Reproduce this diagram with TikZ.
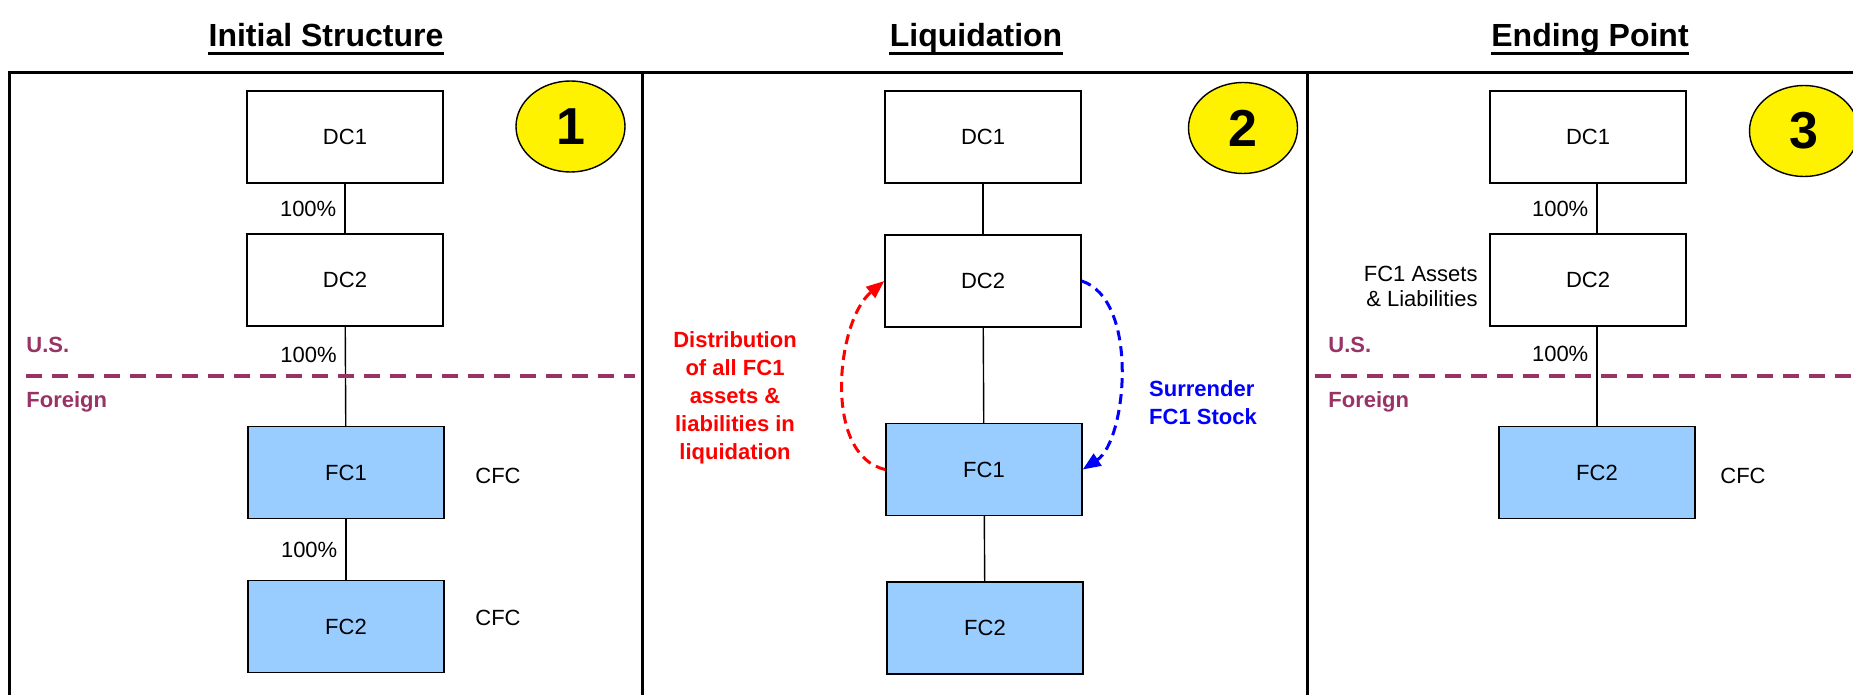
\documentclass[tikz,border=0pt]{standalone}
\usepackage{fontspec}
\setmainfont{Liberation Sans}
\usepackage{xcolor}
\usetikzlibrary{shapes.geometric,arrows.meta,positioning}
\definecolor{fcblue}{RGB}{153,204,255}
\definecolor{borderpurple}{RGB}{153,51,102}
\definecolor{distred}{RGB}{255,0,0}
\definecolor{surrblue}{RGB}{0,0,255}

\tikzset{
  entity/.style={draw, line width=0.7pt, minimum width=98pt, minimum height=46pt, inner sep=0pt, font=\fontsize{11}{13}\selectfont},
  foreignco/.style={entity, fill=fcblue},
  stepno/.style={draw, ellipse, fill=yellow, line width=0.7pt, minimum width=54.5pt, minimum height=45.5pt, inner sep=0pt, font=\bfseries\fontsize{26}{30}\selectfont},
  heading/.style={anchor=base, inner sep=0pt, font=\bfseries\fontsize{16}{19}\selectfont},
  pct/.style={inner sep=4pt, font=\fontsize{11}{13}\selectfont},
  plain/.style={font=\fontsize{11}{13}\selectfont},
  region/.style={anchor=west, inner sep=0pt, text=borderpurple, font=\bfseries\fontsize{11}{13}\selectfont},
  borderline/.style={borderpurple, line width=2pt, dash pattern=on 8pt off 5pt},
  flow/.style={line width=1.5pt, dash pattern=on 5pt off 3pt, -{Triangle[length=9pt,width=7pt]}},
}

\begin{document}
\begin{tikzpicture}[x=0.5pt,y=0.5pt,yscale=-1,xscale=1]
\useasboundingbox (0,0) rectangle (1853,695);
\clip (0,0) rectangle (1853,695);

%Titles
\node[heading] (t1) at (326,47) {Initial Structure};
\node[heading] (t2) at (976,47) {Liquidation};
\node[heading] (t3) at (1590,47) {Ending Point};
\foreach \t in {t1,t2,t3}
  \draw[line width=1.5pt] ([yshift=3.5pt]\t.base west) -- ([yshift=3.5pt]\t.base east);

%Frame
\draw[line width=1.5pt] (9,73) rectangle (2000,800);
\draw[line width=1.5pt] (642,73) -- (642,800);
\draw[line width=1.5pt] (1307,73) -- (1307,800);

%Panel 1: initial structure
\node[entity] (p1dc1) at (345,137) {DC1};
\node[entity] (p1dc2) at (345,280) {DC2};
\node[foreignco] (p1fc1) at (346,472.5) {FC1};
\node[foreignco] (p1fc2) at (346,626.5) {FC2};
\node[stepno] (n1) at (570.5,126.5) {1};
\draw[line width=0.7pt] (p1dc1) -- (p1dc2) node[pct, midway, left] {100\%};
\draw[line width=0.7pt] (p1dc2) -- (p1fc1) node[pct, pos=0.28, left] {100\%};
\draw[line width=0.7pt] (p1fc1) -- (p1fc2) node[pct, midway, left] {100\%};
\node[plain] (p1cfc1) at (498,476) {CFC};
\node[plain] (p1cfc2) at (498,618) {CFC};
\draw[borderline] (26,376) -- (635,376);
\node[region] (p1us) at (26,345) {U.S.};
\node[region] (p1for) at (26,402) {Foreign};

%Panel 2: liquidation
\node[entity] (p2dc1) at (983,137) {DC1};
\node[entity] (p2dc2) at (983,281) {DC2};
\node[foreignco] (p2fc1) at (984,469.5) {FC1};
\node[foreignco] (p2fc2) at (985,628) {FC2};
\node[stepno] (n2) at (1243,128) {2};
\draw[line width=0.7pt] (p2dc1) -- (p2dc2);
\draw[line width=0.7pt] (p2dc2) -- (p2fc1);
\draw[line width=0.7pt] (p2fc1) -- (p2fc2);
%distribution and surrender
\draw[flow, distred] (p2fc1.west) .. controls +(-63,-14) and +(-48,40) .. (p2dc2.west);
\draw[flow, surrblue] (p2dc2.east) .. controls +(58,19) and +(44,-29) .. (p2fc1.east);
\node[align=center, text=distred, font=\bfseries\fontsize{11}{14}\selectfont] (p2dist) at (735,398)
  {Distribution\\of all FC1\\assets \&\\liabilities in\\liquidation};
\node[align=left, text=surrblue, font=\bfseries\fontsize{11}{14}\selectfont] (p2surr) at (1203,403)
  {Surrender\\FC1 Stock};

%Panel 3: ending point
\node[entity] (p3dc1) at (1588,137) {DC1};
\node[entity] (p3dc2) at (1588,280) {DC2};
\node[foreignco] (p3fc2) at (1597,472.5) {FC2};
\node[stepno] (n3) at (1804,131) {3};
\draw[line width=0.7pt] (p3dc1.south -| p3fc2) -- (p3dc2.north -| p3fc2) node[pct, midway, left] {100\%};
\draw[line width=0.7pt] (p3dc2.south -| p3fc2) -- (p3fc2.north) node[pct, pos=0.27, left] {100\%};
\node[plain, align=right, anchor=east, inner sep=0pt, font=\fontsize{11}{12.5}\selectfont] (p3fa) at (1478,286) {FC1 Assets\\\& Liabilities};
\node[plain] (p3cfc) at (1743,476) {CFC};
\draw[borderline] (1315,376) -- (1900,376);
\node[region] (p3us) at (1328,345) {U.S.};
\node[region] (p3for) at (1328,402) {Foreign};

\end{tikzpicture}
\end{document}
